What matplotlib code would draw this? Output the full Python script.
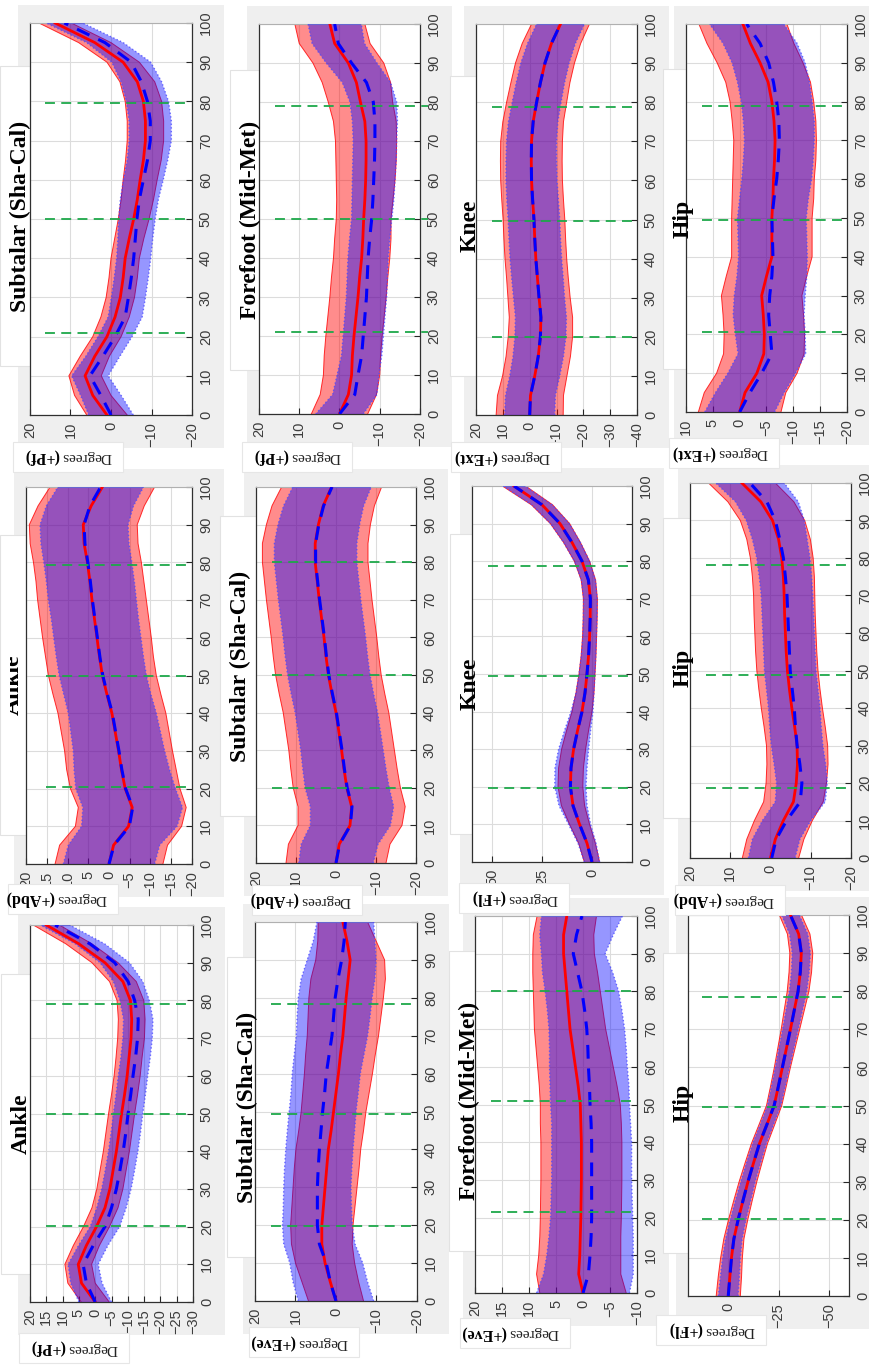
import numpy as np
import matplotlib
matplotlib.use('Agg')
import matplotlib.pyplot as plt
from matplotlib.patches import Rectangle
from matplotlib.transforms import Bbox, TransformedBbox

# ---------------- data (gait cycle %, degrees) ----------------
pct = list(range(0, 101, 5))

# Row 1
r1c1_red_mean = [1, 4.5, 6.4, 4, 1, -1, -2.3, -3, -3.5, -4.5, -5.6, -6.5, -7.2, -8, -8.5, -8.5, -8, -6.5, -3, 4, 13.8]
r1c1_red_sd = [5, 4.5, 4, 3.6, 3.5, 3.5, 3.5, 3.5, 3.5, 3.6, 3.8, 4, 4.2, 4.4, 4.5, 4.5, 4.5, 4.3, 4, 4, 4]
r1c1_blue_mean = [0, 2.5, 5.2, 2, -1, -3.5, -4.3, -5, -5.6, -6, -6.4, -7, -8, -9, -9.7, -9.7, -9, -7.5, -5, 1.5, 11.5]
r1c1_blue_sd = [5.5, 5, 4.5, 4.2, 4.2, 4.2, 4.2, 4.2, 4.2, 4.3, 4.5, 4.7, 4.9, 5, 5.2, 5.2, 5.2, 5, 4.8, 4.5, 4.5]

r1c2_red_mean = [0, -2.2, -3, -3.2, -3.6, -4.1, -4.6, -5, -5.5, -5.8, -6, -6.3, -6.5, -6.6, -6.6, -6.3, -5.2, -4.2, -2.2, 1.2, 2.4]
r1c2_red_sd = [7, 7, 7, 7, 7, 7, 7, 7, 7, 7, 6.8, 7, 7.3, 7.5, 7.6, 7.8, 8, 8.5, 8.8, 8.8, 8.7]
r1c2_blue_mean = [0, -3.8, -4.6, -5.5, -5.9, -6.3, -6.7, -6.9, -7.1, -7.5, -8, -8.3, -8.5, -8.7, -8.8, -8.8, -8.4, -6.7, -3, 0.3, 1.2]
r1c2_blue_sd = [5.9, 5.5, 5.2, 5, 5, 5, 5, 5, 5, 5, 5, 5.2, 5.3, 5.4, 5.4, 5.6, 5.8, 6, 6.3, 6.5, 6.6]

r1c3_red_mean = [0, -0.3, -1.9, -3.2, -4, -4.2, -3.5, -2.9, -2.3, -1.9, -1.6, -1.1, -0.7, -0.6, -0.7, -1.3, -2.6, -4, -5.7, -8.1, -11.5]
r1c3_red_sd = [12.5, 12.3, 12, 12, 12, 11.8, 11.6, 11.5, 11.5, 11.5, 11.5, 11.5, 11.5, 11.5, 11.5, 11.3, 11.2, 11, 11, 10.9, 10.8]
r1c3_blue_mean = [0, -0.3, -1.9, -3.2, -4, -4.2, -3.5, -2.9, -2.3, -1.9, -1.6, -1.1, -0.7, -0.6, -0.7, -1.3, -2.6, -4, -5.7, -8.1, -11.5]
r1c3_blue_sd = [9.3, 9.3, 9.3, 9.4, 9.5, 9.5, 9.5, 9.6, 9.6, 9.6, 9.6, 9.6, 9.5, 9.4, 9.3, 9.2, 9.1, 9, 9, 8.9, 8.9]

r1c4_red_mean = [0, -1.0, -3.2, -4.5, -4.6, -4.4, -4.1, -5, -6, -6, -6, -6.2, -6.3, -6.5, -6.6, -6.4, -6, -5.3, -3.8, -2, -0.6]
r1c4_red_sd = [7.7, 7.6, 7.5, 7.5, 7.5, 7.5, 7.5, 7.5, 7.5, 7.5, 7.5, 7.6, 7.6, 7.7, 7.7, 7.8, 7.8, 7.9, 8, 8.1, 8.2]
r1c4_blue_mean = [0, -1.9, -4.1, -6, -5.7, -5.4, -5.6, -6, -6.2, -6.1, -6, -6.4, -6.9, -7.2, -7.4, -7.3, -6.9, -6.3, -5.4, -3.8, -1.3]
r1c4_blue_sd = [6.5, 6.4, 6.3, 6.3, 6.5, 6.6, 6.6, 6.5, 6.4, 6.4, 6.4, 6.4, 6.5, 6.5, 6.5, 6.6, 6.6, 6.7, 6.8, 6.9, 6.9]

# Row 2
r2c1_red_mean = [0, -1.1, -4.7, -5.6, -3.9, -3, -2.3, -1.5, -0.7, 0.5, 1.6, 2.3, 2.9, 3.5, 4.1, 4.6, 5.2, 6, 6.2, 4.3, 1.6]
r2c1_red_sd = [13, 13, 12.8, 13, 13.2, 13.2, 13, 13, 13, 13, 13, 13, 13.1, 13.1, 13.1, 13, 13, 13, 13, 12.8, 12.6]
r2c1_blue_mean = [0, -1.2, -4.9, -5.7, -4, -3.1, -2.4, -1.6, -0.8, 0.4, 1.5, 2.2, 2.8, 3.4, 4, 4.5, 5.1, 5.8, 6, 4.6, 2]
r2c1_blue_sd = [11, 11, 11.5, 12, 12, 11.5, 11, 10.8, 10.6, 10.5, 10.5, 10.5, 10.5, 10.5, 10.6, 10.6, 10.6, 10.6, 10.6, 10.5, 10.3]

r2c2_red_mean = [0, -0.8, -3.5, -3.9, -2.7, -2, -1.4, -0.7, 0, 1, 1.9, 2.5, 3, 3.6, 4.2, 4.7, 5.2, 5.2, 4.4, 3.2, 1.1]
r2c2_red_sd = [12.5, 12.7, 13, 13.4, 13.4, 13.3, 13.2, 13.2, 13.2, 13.2, 13.2, 13.2, 13.2, 13.2, 13.2, 13.2, 13.2, 13.2, 13, 12.8, 12.5]
r2c2_blue_mean = [0, -0.9, -3.6, -4, -2.8, -2.1, -1.5, -0.8, -0.1, 0.9, 1.8, 2.4, 2.9, 3.5, 4.1, 4.6, 5.1, 5.1, 4.3, 3.1, 1.0]
r2c2_blue_sd = [9.3, 9.6, 10, 10.4, 10.5, 10.4, 10.3, 10.3, 10.3, 10.3, 10.3, 10.3, 10.3, 10.3, 10.3, 10.3, 10.3, 10.3, 10.2, 10, 9.8]

r2c3_red_mean = [0, 2.5, 6.2, 9.5, 10.8, 10.5, 9.2, 7.2, 5, 3.5, 2.5, 1.7, 1.2, 0.9, 0.8, 1.8, 5, 10, 16, 25, 39]
r2c3_red_sd = [3.8, 4.2, 5, 5.8, 6.2, 6.2, 6, 5.5, 5, 4.5, 4, 3.7, 3.5, 3.5, 3.5, 3.6, 3.8, 4.2, 4.8, 5.3, 5.8]
r2c3_blue_mean = [0, 2.5, 6.2, 9.5, 10.8, 10.5, 9.2, 7.2, 5, 3.5, 2.5, 1.7, 1.2, 0.9, 0.8, 1.8, 5, 10, 16, 25, 39]
r2c3_blue_sd = [3.8, 4.5, 5.5, 7, 7.8, 8, 7.5, 6.5, 5.5, 4.5, 4, 3.6, 3.4, 3.4, 3.4, 3.5, 3.8, 4.2, 4.7, 5.1, 5.4]

r2c4_red_mean = [0, -1.2, -3.2, -5.7, -6.4, -6.7, -6.6, -6, -5.3, -4.7, -4.2, -3.9, -3.7, -3.5, -3.4, -3.2, -2.8, -2, -0.5, 2.4, 7.1]
r2c4_red_sd = [7, 7.1, 7.2, 7.4, 7.5, 7.6, 7.6, 7.6, 7.6, 7.6, 7.6, 7.6, 7.6, 7.6, 7.6, 7.7, 7.8, 7.9, 8, 8.2, 8.3]
r2c4_blue_mean = [-0.3, -1.4, -4, -7.4, -7.8, -7.3, -6.6, -6.2, -5.9, -5.4, -4.9, -4.7, -4.5, -4.3, -4.1, -3.7, -3.2, -2.3, -1.2, 0.9, 5.1]
r2c4_blue_sd = [5.8, 5.9, 6, 6.2, 6.3, 6.4, 6.4, 6.4, 6.4, 6.4, 6.4, 6.4, 6.4, 6.4, 6.4, 6.5, 6.6, 6.8, 7.2, 7.8, 8.5]

# Row 3
r3c1_red_mean = [0, 4.2, 5.2, 2.7, -0.4, -3, -4.5, -5.5, -6.5, -7.3, -8.1, -9, -9.8, -10.4, -11, -11.2, -10.8, -8.5, -3, 5, 15]
r3c1_red_sd = [4.3, 4.2, 4.1, 4, 4, 4, 4, 4, 4, 4, 4, 4, 4, 4, 4.1, 4.1, 4.1, 4.1, 4, 4, 4]
r3c1_blue_mean = [0, 2.7, 3.7, 0.6, -3, -5, -6.5, -7.6, -8.6, -9.4, -10.1, -10.9, -11.6, -12.4, -13, -13.2, -12.1, -10.1, -6, 1.6, 12.3]
r3c1_blue_sd = [5, 4.8, 4.6, 4.5, 4.5, 4.5, 4.5, 4.5, 4.5, 4.5, 4.5, 4.5, 4.5, 4.5, 4.5, 4.5, 4.5, 4.5, 4.5, 4.5, 4.5]

r3c2_red_mean = [0, 1.4, 2.7, 3.5, 3.5, 3.1, 2.7, 2.3, 1.9, 1.2, 0.6, 0, -0.6, -1.1, -1.7, -2.1, -2.5, -3, -3.5, -2.7, -1.7]
r3c2_red_sd = [6.8, 7, 7.3, 7.5, 7.7, 7.8, 7.9, 8, 8, 8, 8, 8.2, 8.4, 8.6, 8.8, 9, 9.2, 9.2, 8.5, 7.2, 6.1]
r3c2_blue_mean = [0, 1.4, 2.4, 4.1, 4.6, 4.6, 4.6, 4.4, 4.1, 3.7, 3.3, 2.8, 2.4, 1.7, 1, 0.6, 0.2, -0.5, -1.4, -2, -2.3]
r3c2_blue_sd = [9.3, 9.2, 9, 8.8, 8.6, 8.4, 8.3, 8.3, 8.3, 8.3, 8.25, 8.3, 8.4, 8.6, 8.8, 9, 9.1, 9.1, 8.5, 7.6, 7]

r3c3_red_mean = [0, 0.8, 0.6, 0.5, 0.4, 0.35, 0.3, 0.3, 0.3, 0.4, 0.5, 0.9, 1.4, 1.9, 2.4, 2.7, 3, 3.3, 3.6, 3.6, 3]
r3c3_red_sd = [8, 7.8, 7.6, 7.5, 7.5, 7.5, 7.5, 7.5, 7.5, 7.5, 7.4, 7.2, 7, 6.8, 6.6, 6.4, 6.2, 6, 5.7, 5.6, 5.5]
r3c3_blue_mean = [0, -1, -1.3, -1.5, -1.6, -1.6, -1.6, -1.6, -1.6, -1.5, -1.3, -1.2, -1, -0.9, -0.7, -0.3, 0.2, 1, 1.8, 1.2, 0.2]
r3c3_blue_sd = [8.6, 8.3, 8, 7.8, 7.6, 7.5, 7.4, 7.4, 7.4, 7.3, 7.3, 7.3, 7.2, 7.1, 7, 6.9, 6.8, 6.5, 5.9, 6.8, 7.5]

r3c4_red_mean = [0, -0.8, -1.6, -2.8, -4.9, -7.3, -9.8, -12.6, -15.5, -19.2, -22.8, -24.9, -26.9, -28.9, -30.9, -32.8, -34.7, -35.8, -36.3, -35, -30.9]
r3c4_red_sd = [6, 5.8, 5.4, 5, 4.8, 4.6, 4.4, 4.2, 4, 3.9, 3.8, 3.9, 4, 4.3, 4.6, 5, 5.4, 5.6, 5.7, 5.6, 5.5]
r3c4_blue_mean = [0, -0.8, -1.6, -2.8, -4.9, -7.3, -9.8, -12.6, -15.5, -19.2, -22.8, -24.9, -26.9, -28.9, -30.9, -32.8, -34.7, -35.8, -36.3, -35, -30.9]
r3c4_blue_sd = [4.9, 4.7, 4.4, 4.1, 3.9, 3.8, 3.6, 3.5, 3.4, 3.3, 3.3, 3.4, 3.5, 3.7, 3.9, 4.1, 4.3, 4.4, 4.5, 4.5, 4.4]

titles = ["Subtalar (Sha-Cal)", "Forefoot (Mid-Met)", "Knee", "Hip",
          "Ankle", "Subtalar (Sha-Cal)", "Knee", "Hip",
          "Ankle", "Subtalar (Sha-Cal)", "Forefoot (Mid-Met)", "Hip"]
ylabel_signs = ["(+Pf)", "(+Pf)", "(+Ext)", "(+Ext)",
                "(+Abd)", "(+Abd)", "(+Fl)", "(+Abd)",
                "(+Pf)", "(+Eve)", "(+Eve)", "(+Fl)"]
value_limits = [(20, -20), (20, -20), (20, -40), (10, -20),
                (20, -20), (20, -20), (60, -20), (20, -20),
                (20, -30), (20, -20), (20, -10), (20, -60)]
value_ticks = [[20, 10, 0, -10, -20], [20, 10, 0, -10, -20], [20, 10, 0, -10, -20, -30, -40], [10, 5, 0, -5, -10, -15, -20],
               [20, 15, 10, 5, 0, -5, -10, -15, -20], [20, 10, 0, -10, -20], [50, 25, 0], [20, 10, 0, -10, -20],
               [20, 15, 10, 5, 0, -5, -10, -15, -20, -25, -30], [20, 10, 0, -10, -20], [20, 15, 10, 5, 0, -5, -10], [0, -25, -50]]
events = [[21, 50, 79.5], [21, 50, 79], [20, 49.5, 78.7], [20.5, 49.4, 78.8],
          [20.3, 50, 79.2], [20, 50, 80], [19.7, 49.5, 78.8], [18.8, 48.7, 78],
          [20.1, 49.9, 79.1], [19.8, 49.4, 78.3], [21.4, 51, 80.2], [20.1, 49.5, 78.4]]
pct_ticks = list(range(0, 101, 10))

red_means = [r1c1_red_mean, r1c2_red_mean, r1c3_red_mean, r1c4_red_mean,
             r2c1_red_mean, r2c2_red_mean, r2c3_red_mean, r2c4_red_mean,
             r3c1_red_mean, r3c2_red_mean, r3c3_red_mean, r3c4_red_mean]
red_sds = [r1c1_red_sd, r1c2_red_sd, r1c3_red_sd, r1c4_red_sd,
           r2c1_red_sd, r2c2_red_sd, r2c3_red_sd, r2c4_red_sd,
           r3c1_red_sd, r3c2_red_sd, r3c3_red_sd, r3c4_red_sd]
blue_means = [r1c1_blue_mean, r1c2_blue_mean, r1c3_blue_mean, r1c4_blue_mean,
              r2c1_blue_mean, r2c2_blue_mean, r2c3_blue_mean, r2c4_blue_mean,
              r3c1_blue_mean, r3c2_blue_mean, r3c3_blue_mean, r3c4_blue_mean]
blue_sds = [r1c1_blue_sd, r1c2_blue_sd, r1c3_blue_sd, r1c4_blue_sd,
            r2c1_blue_sd, r2c2_blue_sd, r2c3_blue_sd, r2c4_blue_sd,
            r3c1_blue_sd, r3c2_blue_sd, r3c3_blue_sd, r3c4_blue_sd]

# ---------------- layout (pixels in the 870x1367 image) ----------------
W, H = 870, 1367
axes_px = [(30, 23, 192, 415), (259, 24, 420, 414), (476, 24, 637, 415), (686, 24, 847, 412),
           (26, 487, 192, 864), (256, 487, 416, 863), (472, 486, 632, 862), (690, 483, 851, 858),
           (30, 925, 193, 1302), (255, 922, 417, 1301), (475, 916, 637, 1293), (688, 915, 849, 1296)]
title_px = [(20, 216), (250, 220), (470, 226), (683, 219),
            (13, 685), (240, 666), (470, 684), (683, 668),
            (21, 1124), (247, 1107), (469, 1101), (683, 1103)]
ylab_px = [(61, 457), (290, 457), (499, 457), (717, 453),
           (56, 899), (300, 900), (507, 898), (723, 900),
           (67, 1348), (297, 1342), (508, 1333), (704, 1330)]
event_span = [(0.09, 0.98), (0.1, 1.05), (0.1, 0.98), (0.1, 0.975),
              (0.12, 0.98), (0.1, 0.98), (0.1, 0.98), (0.1, 0.98),
              (0.1, 0.98), (0.1, 0.98), (0.1, 0.99), (0.09, 0.96)]

SERIF = ['Liberation Serif', 'DejaVu Serif']
SANS = ['Liberation Sans', 'DejaVu Sans']

fig = plt.figure(figsize=(W / 100, H / 100), dpi=100)
fig.patch.set_facecolor('white')


def frect(x0, y0, x1, y1, **kw):
    r = Rectangle((x0 / W, 1 - y1 / H), (x1 - x0) / W, (y1 - y0) / H,
                  transform=fig.transFigure, **kw)
    fig.add_artist(r)
    return r


for i in range(12):
    L, T, R, B = axes_px[i]
    # grey panel background (MATLAB figure colour)
    frect(L - 12, T - 18, R + 32, B + 33, facecolor='#efefef', edgecolor='none', zorder=-3)
    # white title box
    tx, ty = title_px[i]
    frect(max(tx - 20, 0), ty - 150, L, ty + 150, facecolor='white', edgecolor='#e2e2e2', lw=0.8, zorder=-2)

    ax = fig.add_axes([L / W, 1 - B / H, (R - L) / W, (B - T) / H])
    ax.set_facecolor('white')
    p = np.array(pct, dtype=float)
    rm, rs = np.array(red_means[i]), np.array(red_sds[i])
    bm, bs = np.array(blue_means[i]), np.array(blue_sds[i])

    ax.fill_betweenx(p, rm - rs, rm + rs, facecolor=(1, 0, 0), alpha=0.45, lw=0, zorder=2)
    ax.plot(rm - rs, p, color='red', lw=0.7, alpha=0.8, zorder=2.1)
    ax.plot(rm + rs, p, color='red', lw=0.7, alpha=0.8, zorder=2.1)
    ax.fill_betweenx(p, bm - bs, bm + bs, facecolor=(0, 0, 1), alpha=0.41, lw=0, zorder=3)
    ax.plot(bm - bs, p, color='#4a4aff', lw=1.0, ls=':', alpha=0.8, zorder=3.1)
    ax.plot(bm + bs, p, color='#4a4aff', lw=1.0, ls=':', alpha=0.8, zorder=3.1)
    ax.plot(rm, p, color='red', lw=2.0, zorder=5)
    ax.plot(bm, p, color='blue', lw=2.2, ls=(0, (4.5, 3.2)), zorder=6)
    for e in events[i]:
        ax.plot(event_span[i], [e, e], transform=ax.get_yaxis_transform(),
                color='#1ea84a', lw=1.3, ls=(0, (5.5, 3.5)), clip_on=False, zorder=7)

    ax.set_xlim(*value_limits[i])
    ax.set_ylim(0, 100)
    ax.set_xticks(value_ticks[i])
    ax.set_yticks(pct_ticks)
    ax.yaxis.tick_right()
    ax.grid(True, color='#dcdcdc', lw=0.8)
    ax.set_axisbelow(True)
    ax.tick_params(direction='in', length=4, width=0.8, color='#262626',
                   labelcolor='#3c3c3c', labelsize=10.5, pad=5)
    ax.tick_params(axis='x', labelrotation=90)
    ax.tick_params(axis='y', labelrotation=90)
    for lab in ax.get_xticklabels() + ax.get_yticklabels():
        lab.set_fontfamily(SANS)
    for lab in ax.get_yticklabels():
        lab.set_va('center')
        lab.set_ha('left')
    for s in ['left', 'bottom', 'right']:
        ax.spines[s].set_color('#303030')
        ax.spines[s].set_linewidth(0.9)
    ax.spines['top'].set_color('#b0b0b0')
    ax.spines['top'].set_linewidth(0.8)

    # title (rotated, reads bottom-to-top)
    t = fig.text(tx / W, 1 - ty / H, titles[i], rotation=90, ha='center', va='center',
                 fontsize=17, fontweight='bold', family=SERIF, color='black', zorder=8)
    if i == 4:
        clip = TransformedBbox(Bbox([[10 / W, 0], [1, 1]]), fig.transFigure)
        t.set_clip_box(clip)
        t.set_clip_on(True)

    # y label (upside down)
    xm, yl = ylab_px[i]
    frect(xm - 48, yl - 15, xm + 62, yl + 15, facecolor='white', edgecolor='#e6e6e6', lw=0.8, zorder=1)
    fig.text((xm + 1) / W, 1 - yl / H, 'Degrees', rotation=180, rotation_mode='anchor',
             ha='right', va='center', fontsize=11, family=SERIF, color='#222222', zorder=9)
    fig.text((xm - 2) / W, 1 - yl / H, ylabel_signs[i], rotation=180, rotation_mode='anchor',
             ha='left', va='center', fontsize=11.5, fontweight='bold', family=SERIF, color='black', zorder=9)

fig.savefig('out.png', dpi=100, facecolor='white')
